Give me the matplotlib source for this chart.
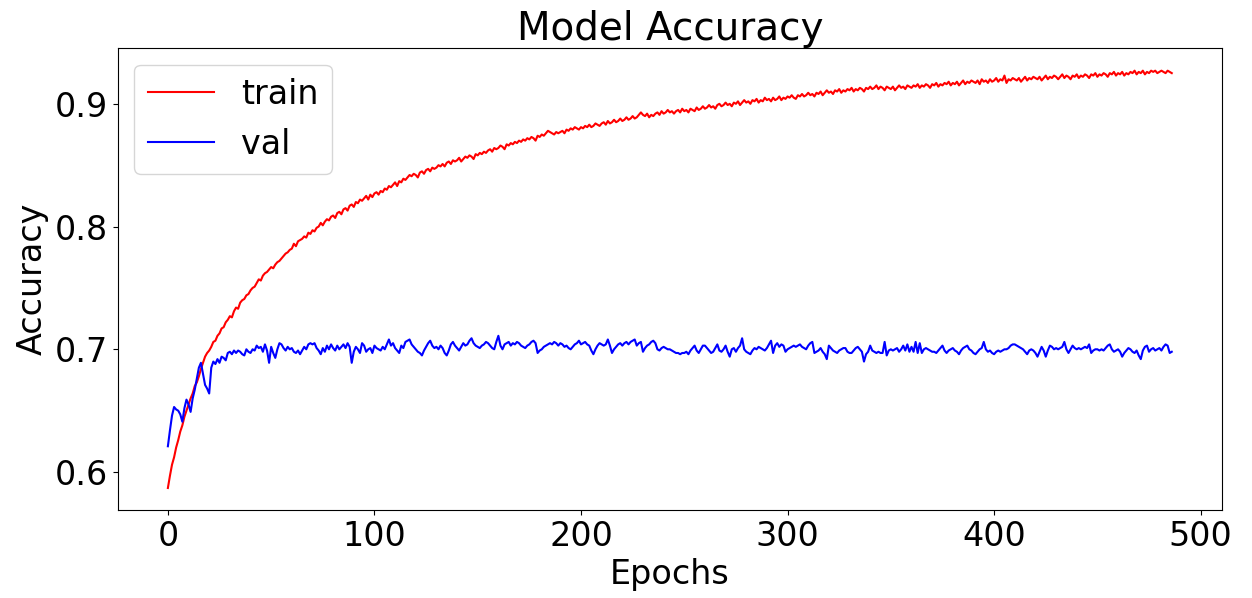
import matplotlib
matplotlib.use("Agg")
import matplotlib.pyplot as plt

# accuracy per epoch
train_acc = [
    .587, .597, .606, .612, .620, .626, .633, .638, .645, .650,
    .655, .660, .664, .670, .673, .678, .684, .689, .694, .697,
    .699, .702, .706, .707, .711, .713, .717, .718, .722, .724,
    .727, .726, .731, .734, .733, .738, .740, .741, .744, .745,
    .748, .750, .751, .754, .757, .756, .760, .762, .763, .765,
    .767, .766, .769, .771, .772, .774, .776, .778, .779, .781,
    .782, .786, .784, .788, .789, .790, .792, .791, .795, .794,
    .797, .796, .799, .800, .803, .801, .804, .806, .805, .808,
    .809, .807, .811, .812, .810, .814, .815, .813, .817, .818,
    .816, .820, .819, .822, .821, .823, .825, .822, .826, .824,
    .827, .828, .826, .829, .828, .831, .830, .833, .832, .834,
    .836, .833, .837, .836, .839, .838, .840, .842, .841, .843,
    .842, .840, .844, .845, .843, .846, .847, .845, .848, .847,
    .848, .850, .849, .851, .849, .852, .853, .851, .854, .853,
    .854, .856, .853, .855, .857, .856, .858, .857, .855, .859,
    .858, .860, .859, .861, .860, .862, .863, .861, .864, .863,
    .864, .866, .865, .863, .867, .866, .868, .867, .869, .868,
    .870, .869, .871, .870, .872, .871, .873, .872, .870, .874,
    .873, .875, .874, .876, .878, .877, .876, .875, .877, .876,
    .877, .878, .876, .879, .878, .880, .879, .881, .880, .879,
    .881, .880, .882, .881, .883, .881, .882, .884, .883, .882,
    .884, .885, .883, .886, .884, .885, .887, .885, .886, .888,
    .886, .887, .889, .887, .888, .890, .888, .889, .891, .893,
    .891, .890, .892, .889, .891, .890, .892, .893, .891, .894,
    .892, .893, .895, .893, .894, .892, .894, .895, .893, .896,
    .894, .895, .893, .896, .895, .894, .897, .895, .896, .898,
    .896, .897, .899, .897, .898, .896, .899, .900, .898, .899,
    .901, .899, .900, .898, .901, .900, .902, .899, .901, .903,
    .901, .902, .900, .903, .902, .904, .901, .903, .902, .905,
    .903, .904, .902, .905, .903, .904, .906, .903, .905, .904,
    .906, .905, .907, .905, .904, .907, .906, .908, .906, .907,
    .909, .907, .908, .906, .909, .908, .910, .907, .909, .911,
    .909, .910, .908, .911, .910, .912, .909, .911, .910, .912,
    .911, .913, .910, .912, .911, .913, .912, .910, .913, .912,
    .914, .912, .913, .915, .912, .914, .913, .911, .914, .913,
    .912, .914, .911, .913, .915, .913, .914, .912, .915, .914,
    .913, .915, .914, .916, .913, .915, .914, .916, .915, .913,
    .916, .915, .917, .914, .916, .915, .917, .916, .918, .915,
    .917, .916, .918, .915, .917, .919, .916, .918, .917, .919,
    .918, .917, .919, .916, .920, .918, .919, .917, .920, .918,
    .919, .921, .918, .920, .919, .923, .917, .920, .919, .921,
    .920, .919, .921, .918, .920, .922, .919, .921, .920, .922,
    .921, .920, .922, .919, .921, .923, .920, .922, .921, .923,
    .922, .920, .922, .924, .921, .923, .922, .920, .923, .922,
    .924, .921, .923, .922, .924, .923, .921, .924, .923, .925,
    .922, .924, .923, .925, .924, .922, .925, .924, .926, .923,
    .925, .924, .926, .923, .925, .924, .926, .925, .927, .924,
    .926, .925, .927, .924, .926, .925, .927, .926, .927, .925,
    .926, .927, .926, .925, .927, .926, .925,
]

val_acc = [
    .621, .634, .646, .653, .651, .650, .647, .641, .652, .659,
    .655, .649, .660, .667, .676, .685, .689, .680, .671, .668,
    .664, .685, .690, .688, .692, .689, .694, .693, .691, .697,
    .698, .696, .699, .697, .699, .698, .696, .695, .700, .698,
    .697, .700, .699, .703, .701, .702, .698, .704, .699, .689,
    .702, .697, .693, .700, .705, .704, .701, .699, .702, .700,
    .701, .698, .697, .699, .696, .699, .702, .700, .704, .705,
    .704, .705, .701, .699, .696, .701, .698, .703, .700, .704,
    .701, .699, .703, .700, .702, .704, .701, .705, .702, .689,
    .698, .702, .700, .697, .705, .703, .698, .700, .701, .697,
    .703, .701, .700, .699, .702, .700, .704, .708, .703, .705,
    .701, .699, .697, .703, .701, .706, .707, .708, .704, .702,
    .700, .698, .697, .695, .699, .702, .705, .707, .703, .701,
    .702, .700, .703, .701, .697, .695, .699, .704, .706, .703,
    .701, .699, .702, .705, .703, .704, .707, .709, .705, .703,
    .702, .701, .703, .704, .706, .705, .703, .701, .700, .706,
    .711, .703, .700, .704, .705, .706, .703, .705, .704, .706,
    .705, .703, .702, .701, .703, .704, .706, .707, .705, .697,
    .699, .700, .702, .703, .704, .705, .704, .706, .705, .703,
    .705, .704, .702, .703, .701, .700, .702, .704, .705, .707,
    .704, .705, .706, .704, .703, .699, .696, .700, .703, .705,
    .704, .703, .704, .708, .703, .697, .700, .702, .704, .705,
    .703, .705, .706, .704, .706, .707, .708, .703, .705, .706,
    .698, .701, .703, .704, .706, .707, .705, .700, .699, .701,
    .702, .701, .700, .700, .699, .698, .697, .697, .696, .697,
    .697, .698, .696, .699, .701, .703, .699, .697, .700, .703,
    .703, .701, .699, .697, .698, .701, .704, .699, .698, .700,
    .703, .698, .694, .700, .701, .698, .701, .703, .709, .700,
    .698, .697, .696, .699, .701, .700, .702, .701, .700, .699,
    .701, .704, .707, .697, .703, .705, .702, .704, .703, .698,
    .700, .701, .702, .703, .702, .703, .704, .702, .701, .700,
    .703, .705, .706, .697, .698, .699, .701, .698, .696, .692,
    .703, .701, .699, .698, .697, .699, .700, .701, .701, .698,
    .697, .697, .699, .701, .702, .700, .698, .690, .696, .698,
    .703, .699, .698, .697, .698, .697, .697, .706, .695, .699,
    .700, .699, .700, .701, .698, .700, .703, .699, .704, .698,
    .702, .698, .706, .697, .705, .697, .700, .701, .700, .699,
    .698, .698, .697, .699, .701, .703, .699, .697, .699, .700,
    .701, .699, .698, .696, .699, .701, .702, .703, .700, .699,
    .697, .696, .698, .700, .701, .706, .700, .698, .699, .697,
    .696, .698, .699, .698, .699, .700, .700, .701, .703, .704,
    .704, .703, .702, .701, .700, .698, .696, .699, .700, .699,
    .697, .694, .698, .702, .699, .694, .699, .703, .702, .700,
    .701, .700, .701, .702, .706, .700, .697, .700, .703, .701,
    .700, .701, .700, .701, .702, .701, .704, .697, .699, .700,
    .700, .699, .700, .699, .701, .703, .704, .700, .698, .699,
    .700, .698, .694, .697, .699, .701, .700, .698, .697, .699,
    .695, .692, .699, .702, .703, .698, .700, .701, .699, .700,
    .701, .699, .702, .704, .703, .697, .698,
]

y_ticks = [0.6, 0.7, 0.8, 0.9]

epochs = list(range(len(train_acc)))

fig, ax = plt.subplots(figsize=(12.52, 5.98), dpi=100)
fig.subplots_adjust(left=0.094, right=0.976, top=0.92, bottom=0.147)

ax.plot(epochs, train_acc, color='red', linewidth=1.5, label='train')
ax.plot(epochs, val_acc, color='blue', linewidth=1.5, label='val')

ax.set_ylim(0.569, 0.9456)
ax.set_yticks(y_ticks)
ax.set_title('Model Accuracy', fontsize=28)
ax.set_xlabel('Epochs', fontsize=24)
ax.set_ylabel('Accuracy', fontsize=24)
ax.tick_params(labelsize=24)
ax.legend(loc='upper left', fontsize=24)

fig.savefig('out.png', dpi=100)
